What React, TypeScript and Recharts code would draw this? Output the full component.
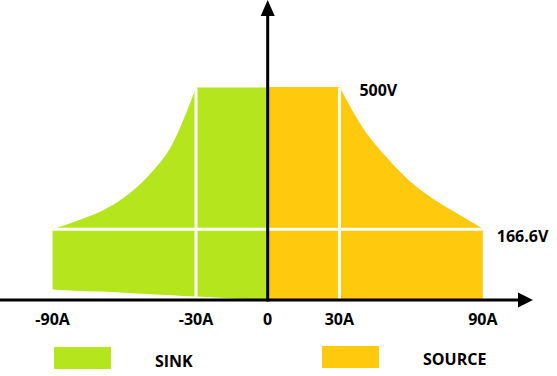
import React from 'react';
import {
  AreaChart,
  Area,
  XAxis,
  YAxis,
  ReferenceLine,
  ReferenceDot,
  Legend,
} from 'recharts';

// values (A / V)
const sinkCurrent = [-90, -80, -70, -60, -50, -40, -30];
const sinkVoltage = [166.6, 186, 208, 242, 292, 366, 500];
const sinkFloor = [25, 22, 20, 17, 14, 11, 8];
const sinkFlatCurrent = [-30, 0];
const sinkFlatVoltage = [500, 500];
const sinkFlatFloor = [8, 0];

const sourceFlatCurrent = [0, 30];
const sourceFlatVoltage = [500, 500];
const sourceCurrent = [30, 40, 50, 60, 70, 80, 90];
const sourceVoltage = [500, 402, 333, 276, 234, 200, 166.6];

const tickValues = [-90, -30, 0, 30, 90];
const legendNames = ['SINK', 'SOURCE'];

const GREEN = '#b5e61d';
const GOLD = '#ffc90e';
const FONT = '"Open Sans", "DejaVu Sans", sans-serif';

type Row = {
  current: number;
  sinkCurve?: [number, number];
  sinkFlat?: [number, number];
  sourceFlat?: number;
  sourceCurve?: number;
};

const buildRows = (): Row[] => {
  const rows = new Map<number, Row>();
  const get = (c: number) => {
    if (!rows.has(c)) rows.set(c, { current: c });
    return rows.get(c)!;
  };
  sinkCurrent.forEach((c, i) => (get(c).sinkCurve = [sinkFloor[i], sinkVoltage[i]]));
  sinkFlatCurrent.forEach((c, i) => (get(c).sinkFlat = [sinkFlatFloor[i], sinkFlatVoltage[i]]));
  sourceFlatCurrent.forEach((c, i) => (get(c).sourceFlat = sourceFlatVoltage[i]));
  sourceCurrent.forEach((c, i) => (get(c).sourceCurve = sourceVoltage[i]));
  return [...rows.values()].sort((a, b) => a.current - b.current);
};

const data = buildRows();

const YArrow = (props: any) => {
  const { x1, y1, y2 } = props;
  const top = Math.min(y1, y2);
  const bottom = Math.max(y1, y2);
  return (
    <g>
      <line x1={x1} x2={x1} y1={top + 14} y2={bottom + 1.5} stroke='#000' strokeWidth={3} />
      <polygon points={`${x1 - 7},${top + 16} ${x1 + 7},${top + 16} ${x1},${top}`} fill='#000' />
    </g>
  );
};

const XArrow = (props: any) => {
  const { x1, x2, y1 } = props;
  const left = Math.min(x1, x2);
  const right = Math.max(x1, x2);
  return (
    <g>
      <line x1={left} x2={right - 14} y1={y1} y2={y1} stroke='#000' strokeWidth={3} />
      <polygon points={`${right - 15},${y1 - 7.5} ${right},${y1} ${right - 15},${y1 + 7.5}`} fill='#000' />
    </g>
  );
};

const legendSlots = [
  { name: 'SINK', color: GREEN, box: 54, boxTop: 12, text: 155, textMid: 26 },
  { name: 'SOURCE', color: GOLD, box: 322, boxTop: 11, text: 423, textMid: 24 },
];

const LegendContent = () => (
  <div style={{ position: 'relative', width: 557, height: 41, fontFamily: FONT }}>
    {legendSlots
      .filter((s) => legendNames.includes(s.name))
      .map((s) => (
        <React.Fragment key={s.name}>
          <div
            style={{
              position: 'absolute',
              left: s.box,
              top: s.boxTop,
              width: 57,
              height: 22,
              background: s.color,
            }}
          />
          <div
            style={{
              position: 'absolute',
              left: s.text,
              top: s.textMid - 11,
              height: 22,
              lineHeight: '22px',
              fontSize: 16,
              fontWeight: 700,
              color: '#000',
            }}
          >
            {s.name}
          </div>
        </React.Fragment>
      ))}
  </div>
);

const labelStyle = { fill: '#000', fontSize: 16, fontWeight: 700, fontFamily: FONT };

export default function App() {
  return (
    <div style={{ position: 'absolute', left: 0, top: 0, width: 557, height: 376, background: '#fff' }}>
      <AreaChart width={557} height={376} data={data} margin={{ top: 0, right: 24, bottom: 0, left: 0 }}>
        <XAxis
          type='number'
          dataKey='current'
          domain={[-112, 111]}
          ticks={tickValues}
          interval={0}
          tickFormatter={(v: number) => (v === 0 ? '0' : `${v}A`)}
          axisLine={false}
          tickLine={false}
          tickMargin={8}
          height={76}
          tick={labelStyle}
        />
        <YAxis hide type='number' domain={[0, 706]} />
        <Legend
          layout='horizontal'
          verticalAlign='middle'
          align='center'
          wrapperStyle={{ left: 0, top: 335, width: 557, height: 41 }}
          content={<LegendContent />}
        />
        <Area
          name='SINK'
          dataKey='sinkCurve'
          type='monotone'
          fill={GREEN}
          fillOpacity={1}
          stroke='none'
          dot={false}
          activeDot={false}
          isAnimationActive={false}
        />
        <Area
          dataKey='sinkFlat'
          type='linear'
          legendType='none'
          fill={GREEN}
          fillOpacity={1}
          stroke='none'
          dot={false}
          activeDot={false}
          isAnimationActive={false}
        />
        <Area
          dataKey='sourceFlat'
          type='linear'
          legendType='none'
          fill={GOLD}
          fillOpacity={1}
          stroke={GOLD}
          strokeWidth={1}
          dot={false}
          activeDot={false}
          isAnimationActive={false}
        />
        <Area
          name='SOURCE'
          dataKey='sourceCurve'
          type='monotone'
          fill={GOLD}
          fillOpacity={1}
          stroke={GOLD}
          strokeWidth={1}
          dot={false}
          activeDot={false}
          isAnimationActive={false}
        />
        <ReferenceLine
          segment={[
            { x: sinkCurrent[0], y: sinkVoltage[0] },
            { x: sourceCurrent[sourceCurrent.length - 1], y: sourceVoltage[sourceVoltage.length - 1] },
          ]}
          stroke='#fff'
          strokeWidth={3}
        />
        <ReferenceLine
          segment={[
            { x: -30, y: sinkFloor[sinkFloor.length - 1] },
            { x: -30, y: 500 },
          ]}
          stroke='#fff'
          strokeWidth={3}
        />
        <ReferenceLine
          segment={[
            { x: 30, y: 0 },
            { x: 30, y: 500 },
          ]}
          stroke='#fff'
          strokeWidth={3}
        />
        <ReferenceDot
          x={30}
          y={500}
          r={0}
          fill='none'
          stroke='none'
          label={{ value: '500V', position: 'right', offset: 20, dy: 3, ...labelStyle }}
        />
        <ReferenceDot
          x={90}
          y={166.6}
          r={0}
          fill='none'
          stroke='none'
          label={{ value: '166.6V', position: 'right', offset: 14, dy: 7, ...labelStyle }}
        />
        <ReferenceLine x={0} stroke='#000' shape={YArrow} />
        <ReferenceLine y={0} stroke='#000' shape={XArrow} />
      </AreaChart>
    </div>
  );
}
